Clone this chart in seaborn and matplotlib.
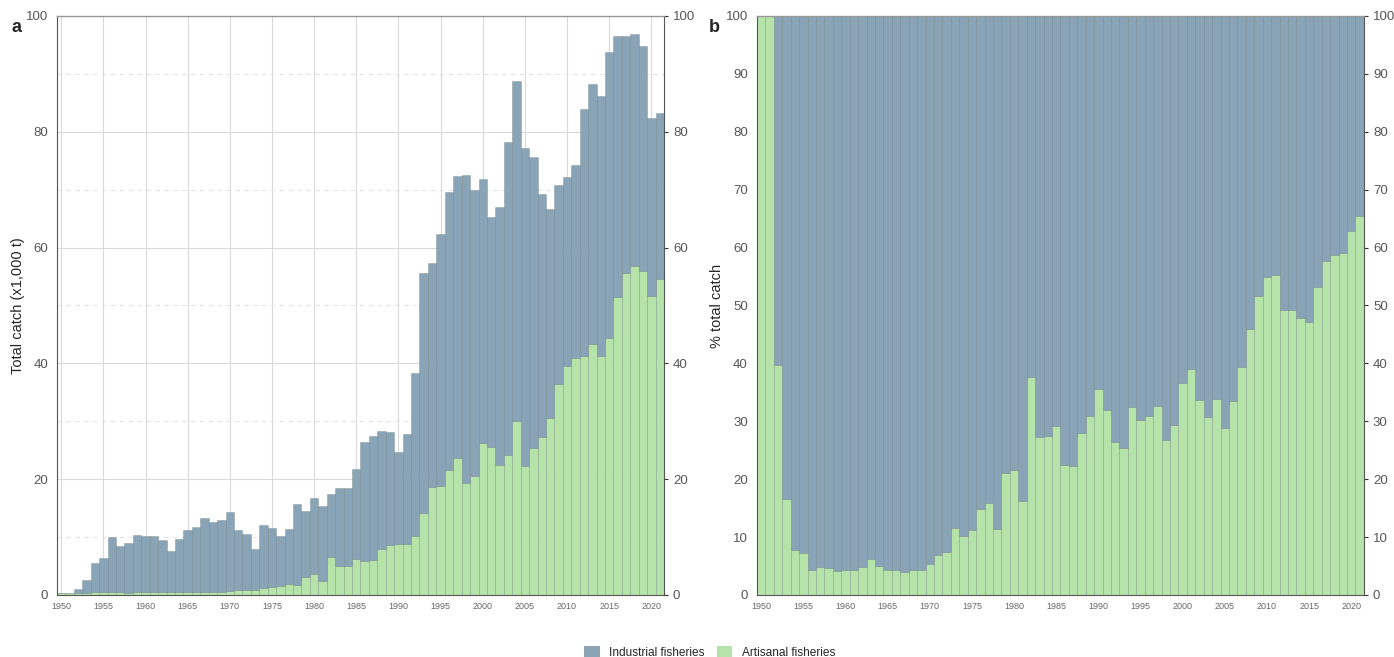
import matplotlib
matplotlib.use("Agg")
import matplotlib.pyplot as plt
from matplotlib.ticker import MultipleLocator
from matplotlib.patches import Patch
import seaborn as sns
import pandas as pd

# Catch data (x1,000 t), one value per year 1950-2021
years = list(range(1950, 2022))

total_catch = [
    0.3, 0.3, 1.0, 2.55, 5.45, 6.45, 9.95, 8.5, 9.0, 10.4,
    10.1, 10.1, 9.5, 7.6, 9.7, 11.2, 11.8, 13.3, 12.6, 12.9,
    14.3, 11.2, 10.55, 7.9, 12.1, 11.6, 10.2, 11.4, 15.7, 14.5,
    16.7, 15.3, 17.5, 18.5, 18.4, 21.8, 26.4, 27.4, 28.4, 28.1,
    24.7, 27.75, 38.4, 55.6, 57.3, 62.4, 69.6, 72.4, 72.6, 69.9,
    71.8, 65.3, 67.0, 78.2, 88.8, 77.2, 75.7, 69.2, 66.7, 70.8,
    72.2, 74.2, 83.9, 88.3, 86.1, 93.75, 96.6, 96.6, 96.8, 94.8,
    82.4, 83.2,
]

artisanal_catch = [
    0.3, 0.3, 0.4, 0.42, 0.43, 0.47, 0.45, 0.43, 0.42, 0.44,
    0.43, 0.44, 0.48, 0.48, 0.49, 0.5, 0.53, 0.55, 0.57, 0.58,
    0.77, 0.78, 0.79, 0.92, 1.23, 1.32, 1.52, 1.82, 1.8, 3.05,
    3.6, 2.5, 6.6, 5.05, 5.06, 6.3, 5.94, 6.1, 7.9, 8.7,
    8.8, 8.85, 10.2, 14.1, 18.6, 18.9, 21.5, 23.6, 19.4, 20.5,
    26.25, 25.55, 22.5, 24.1, 30.1, 22.2, 25.3, 27.2, 30.65, 36.5,
    39.6, 41.0, 41.35, 43.4, 41.2, 44.3, 51.4, 55.6, 56.8, 55.95,
    51.7, 54.5,
]

# Share of artisanal catch (%)
artisanal_pct = [
    100, 100, 39.7, 16.5, 7.8, 7.3, 4.4, 4.9, 4.6, 4.2,
    4.25, 4.3, 4.9, 6.3, 5.0, 4.4, 4.4, 4.0, 4.4, 4.4,
    5.3, 6.9, 7.5, 11.5, 10.1, 11.3, 14.8, 15.9, 11.4, 21.0,
    21.5, 16.3, 37.6, 27.2, 27.4, 29.1, 22.4, 22.2, 27.9, 30.9,
    35.6, 31.9, 26.5, 25.3, 32.4, 30.2, 30.9, 32.6, 26.7, 29.4,
    36.6, 39.1, 33.6, 30.8, 33.9, 28.8, 33.5, 39.3, 46.0, 51.6,
    54.9, 55.2, 49.3, 49.3, 47.9, 47.2, 53.2, 57.7, 58.7, 59.1,
    62.9, 65.5,
]

sectors = ["Industrial fisheries", "Artisanal fisheries"]
palette = {"Industrial fisheries": "#88a4b6", "Artisanal fisheries": "#b6e3aa"}

industrial_catch = [t - a for t, a in zip(total_catch, artisanal_catch)]
industrial_pct = [100 - p for p in artisanal_pct]

df_catch = pd.DataFrame({
    "year": years * 2,
    "value": industrial_catch + artisanal_catch,
    "sector": [sectors[0]] * len(years) + [sectors[1]] * len(years),
})
df_pct = pd.DataFrame({
    "year": years * 2,
    "value": industrial_pct + artisanal_pct,
    "sector": [sectors[0]] * len(years) + [sectors[1]] * len(years),
})

sns.set_style("white")
plt.rcParams["font.family"] = ["Liberation Sans", "DejaVu Sans"]

fig = plt.figure(figsize=(13.94, 6.57), dpi=100)
ax_a = fig.add_axes([0.0409, 0.0944, 0.4354, 0.8813])
ax_b = fig.add_axes([0.5430, 0.0944, 0.4354, 0.8813])

for ax, df in [(ax_a, df_catch), (ax_b, df_pct)]:
    sns.histplot(data=df, x="year", weights="value", hue="sector",
                 hue_order=sectors, palette=palette, multiple="stack",
                 discrete=True, alpha=1, edgecolor=(0.25, 0.32, 0.3, 0.3),
                 linewidth=0.5, legend=False, ax=ax)
    ax.set_xlim(1949.5, 2021.5)
    ax.set_ylim(0, 100)
    ax.set_xlabel("")
    ax.set_xticks(range(1950, 2021, 5))
    ax.tick_params(axis="x", labelsize=6.5, labelcolor="#666666", length=3,
                   width=0.8, color="#333333", pad=2)
    ax.tick_params(axis="y", labelsize=9.5, labelcolor="#555555", length=3,
                   width=0.8, color="#333333", right=True, labelright=True)
    for side in ["left", "bottom", "right"]:
        ax.spines[side].set_color("#555555")
        ax.spines[side].set_linewidth(0.8)
    ax.spines["top"].set_color("#999999")
    ax.spines["top"].set_linewidth(1.0)

# Panel a grid: solid at major ticks, dashed at minor tens
ax_a.set_axisbelow(True)
ax_a.yaxis.set_major_locator(MultipleLocator(20))
ax_a.yaxis.set_minor_locator(MultipleLocator(10))
ax_a.tick_params(axis="y", which="minor", length=0)
ax_a.grid(axis="x", color="#d9d9d9", linewidth=0.8)
ax_a.grid(axis="y", which="major", color="#d9d9d9", linewidth=0.8)
ax_a.grid(axis="y", which="minor", color="#e3e3e3", linewidth=0.8, linestyle=(0, (4, 4)))
ax_a.set_ylabel("Total catch (x1,000 t)", fontsize=10.5)
ax_a.yaxis.set_label_coords(-0.0535, 0.5)

ax_b.yaxis.set_major_locator(MultipleLocator(10))
ax_b.set_ylabel("% total catch", fontsize=10.5)
ax_b.yaxis.set_label_coords(-0.0535, 0.5)

fig.text(0.008, 0.958, "a", fontsize=13, fontweight="bold", va="center")
fig.text(0.5085, 0.958, "b", fontsize=13, fontweight="bold", va="center")

handles = [Patch(facecolor=palette[s], edgecolor="none", label=s) for s in sectors]
fig.legend(handles=handles, loc="lower center", bbox_to_anchor=(0.509, -0.02),
           ncol=2, frameon=False, fontsize=8.6, handlelength=1.3, handleheight=1.4,
           columnspacing=1.0, handletextpad=0.8)

fig.savefig("out.png", dpi=100)
